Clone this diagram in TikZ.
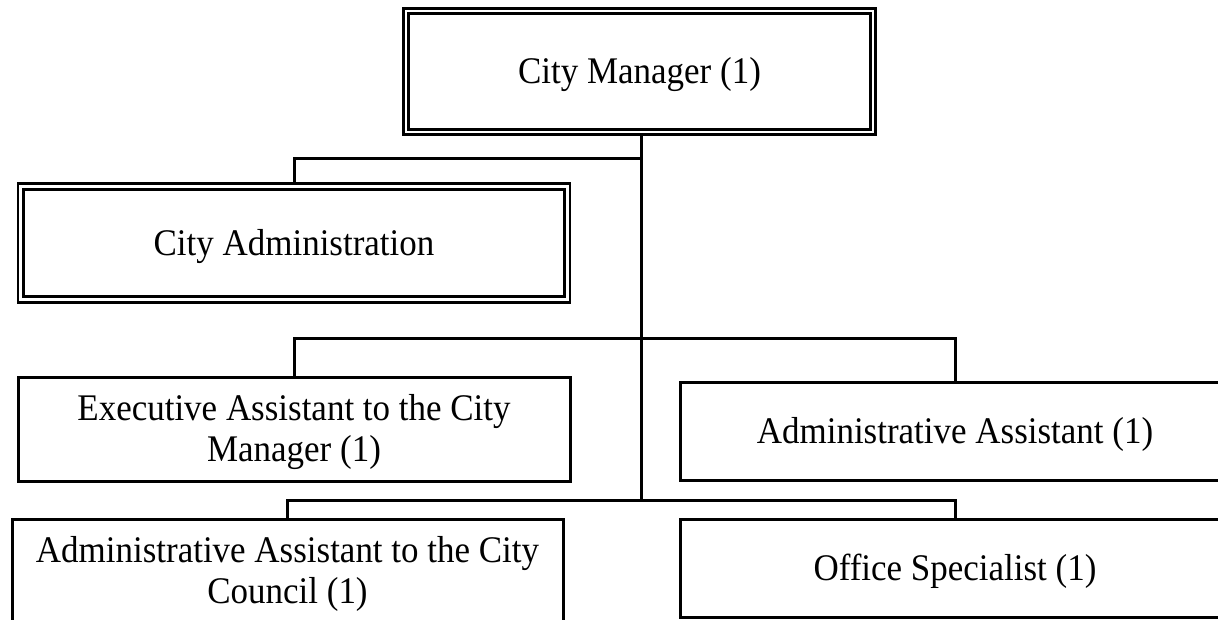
\documentclass[tikz,border=0pt]{standalone}
\usepackage{fontspec}
\setmainfont{Liberation Serif}[FakeStretch=0.93]
\begin{document}
\begin{tikzpicture}[x=1pt,y=-1pt,
  every node/.style={inner sep=0pt, align=center, font=\fontsize{37.6}{41}\selectfont},
  dbox/.style={draw, line width=2.8pt, double, double distance=2.6pt, rectangle, text depth=2pt},
  sbox/.style={draw, line width=3pt, rectangle, text depth=2pt},
  conn/.style={draw, line width=3pt}]
\useasboundingbox (0,0) rectangle (1218,620);
\clip (0,0) rectangle (1218,620);
\node[dbox, minimum width=467pt, minimum height=121pt] (cm) at (639.5,71.5) {City Manager (1)};
\node[dbox, minimum width=546.5pt, minimum height=113pt] (ca) at (294,243) {City Administration};
\node[sbox, minimum width=552pt, minimum height=104pt] (ea) at (294,429) {Executive Assistant to the City\\Manager (1)};
\node[sbox, minimum width=550pt, minimum height=98pt] (aa) at (955,431) {Administrative Assistant (1)};
\node[sbox, minimum width=551pt, minimum height=104pt] (cc) at (287.5,571) {Administrative Assistant to the City\\Council (1)};
\node[sbox, minimum width=550pt, minimum height=98pt] (of) at (955,568) {Office Specialist (1)};
\coordinate (j1) at (641,159);
\coordinate (j2) at (641,338);
\coordinate (j3) at (641,500);
\draw[conn] (cm.south -| j3) -- (j3);
\draw[conn] (j1) -| (ca.north);
\draw[conn] (ea.north) |- (aa.north |- j2) -- (aa.north);
\draw[conn] (cc.north) |- (of.north |- j3) -- (of.north);
\end{tikzpicture}
\end{document}
